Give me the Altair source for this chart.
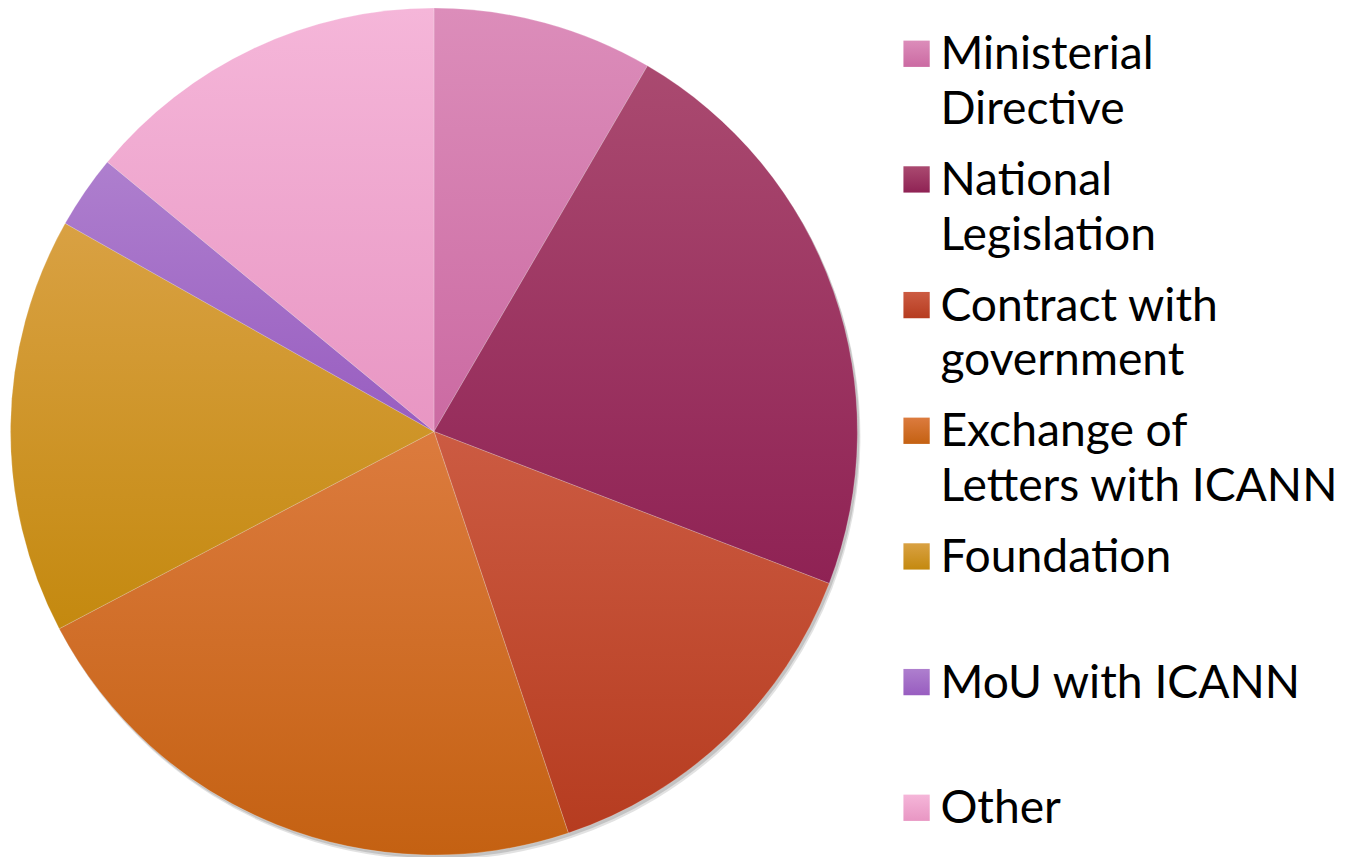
import altair as alt
import pandas as pd

categories = ["Ministerial\nDirective", "National\nLegislation", "Contract with\ngovernment",
              "Exchange of\nLetters with ICANN", "Foundation", "MoU with ICANN", "Other"]
counts = [9, 24, 15, 24, 17, 3, 15]
top_colors = ["#dc8dba", "#aa4a70", "#cc5b42", "#dc7b3e", "#d9a143", "#ae7fce", "#f5b6d9"]
bottom_colors = ["#cb6aa2", "#8f2254", "#b63c20", "#c46112", "#c4890f", "#985dc0", "#e896c3"]

df = pd.DataFrame({
    "category": categories,
    "value": counts,
    "order": list(range(len(categories))),
})

CX, CY, R = 428.5, 423.5, 426

base = alt.Chart(df).transform_window(
    end="sum(value)", sort=[alt.SortField("order")], frame=[None, 0]
).transform_calculate(start="datum.end - datum.value")

theta_scale = alt.Scale(domain=[0, sum(counts)])
y_scale = alt.Scale(domain=[0, 6], range=[43.5, 802])

layers = []
# soft shadow under the pie
layers.append(
    alt.Chart(df).mark_arc(color="#8a8a8a", opacity=0.35).encode(
        theta=alt.Theta("value:Q", stack=True),
        x=alt.value(CX + 2), y=alt.value(CY + 3), radius=alt.value(R)
    )
)
layers.append(
    alt.Chart(df).mark_arc(color="#8a8a8a", opacity=0.25).encode(
        theta=alt.Theta("value:Q", stack=True),
        x=alt.value(CX + 3), y=alt.value(CY + 5), radius=alt.value(R)
    )
)

for i, cat in enumerate(categories):
    grad = alt.LinearGradient(
        gradient="linear", x1=0, y1=0, x2=0, y2=1,
        stops=[alt.GradientStop(offset=0, color=top_colors[i]),
               alt.GradientStop(offset=1, color=bottom_colors[i])],
    )
    sl = base.transform_filter(alt.datum.order == i)
    layers.append(
        sl.mark_arc(fill=grad, stroke="#ffffff", strokeWidth=0.6, strokeOpacity=0.35).encode(
            theta=alt.Theta("start:Q", scale=theta_scale),
            theta2="end:Q",
            x=alt.value(CX), y=alt.value(CY), radius=alt.value(R),
        )
    )
    layers.append(
        alt.Chart(df).transform_filter(alt.datum.order == i).mark_square(
            fill=grad, size=700, opacity=1
        ).encode(
            x=alt.value(914),
            y=alt.Y("order:Q", scale=y_scale, axis=None),
        )
    )

legend_text = alt.Chart(df).mark_text(
    align="left", baseline="alphabetic", lineBreak="\n", font="Lato",
    fontSize=46.5, lineHeight=55, color="#000000", dy=15.5
).encode(
    x=alt.value(938),
    y=alt.Y("order:Q", scale=y_scale, axis=None),
    text="category:N",
)
layers.append(legend_text)

chart = alt.layer(*layers).properties(
    width=1348, height=849, autosize=alt.AutoSizeParams(type="none"), padding=0
).configure_view(stroke=None)

chart.save("out.html", embed_options={"renderer": "svg", "actions": False})
